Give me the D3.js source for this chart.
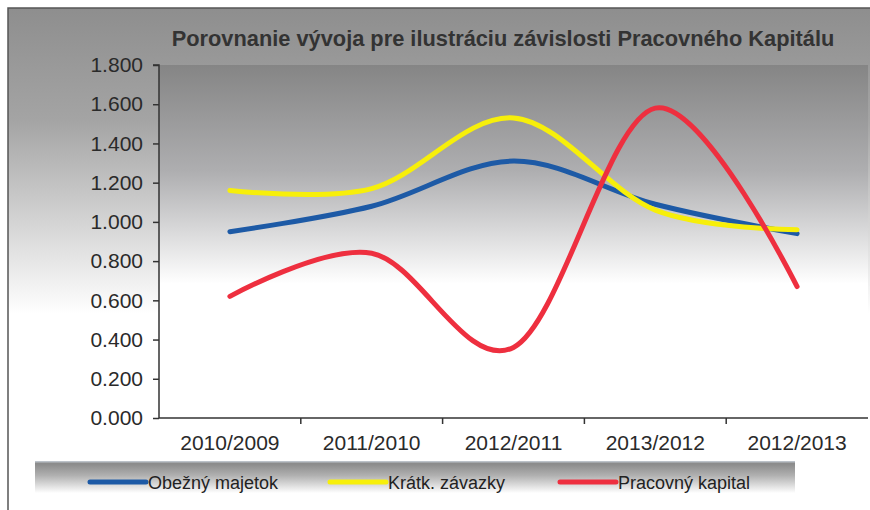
<!DOCTYPE html>
<html>
<head>
<meta charset="utf-8">
<script src="https://cdn.jsdelivr.net/npm/d3@7"></script>
<style>
    body { margin: 0; background: #fff; }
    text { font-family: "Liberation Sans", Arial, sans-serif; }
    .axis text { font-size: 21px; fill: #2a2a2a; }
    .axis path, .axis line { stroke: #333; stroke-width: 1.5; }
    .title { font-size: 21.8px; font-weight: bold; fill: #333; }
    .legendText { font-size: 18px; fill: #222; }
</style>
</head>
<body>
<script>

var categories = ["2010/2009", "2011/2010", "2012/2011", "2013/2012", "2012/2013"];
var obezny = [0.95, 1.08, 1.31, 1.09, 0.94];
var kratke = [1.16, 1.17, 1.53, 1.06, 0.96];
var pracovny = [0.62, 0.84, 0.36, 1.58, 0.67];
var yTicks = [0, 0.2, 0.4, 0.6, 0.8, 1.0, 1.2, 1.4, 1.6, 1.8];

var series = [
    { name: "Obežný majetok", values: obezny, colour: "#1d5aa6" },
    { name: "Krátk. závazky", values: kratke, colour: "#f7ef0a" },
    { name: "Pracovný kapital", values: pracovny, colour: "#ee2f3f" }
];

var width = 870;
var height = 510;

const margin = {
    top: 65,
    right: 2,
    bottom: 92,
    left: 159
};

var svg = d3.select("body").append("svg")
    .attr("width", width)
    .attr("height", height);

var defs = svg.append("defs");

var bgGrad = defs.append("linearGradient") // whole chart background
    .attr("id", "bgGrad")
    .attr("x1", 0).attr("y1", 0).attr("x2", 0).attr("y2", 1);
bgGrad.append("stop").attr("offset", "0%").attr("stop-color", "#8e8e8e");
bgGrad.append("stop").attr("offset", "22%").attr("stop-color", "#a4a4a4");
bgGrad.append("stop").attr("offset", "60%").attr("stop-color", "#ffffff");
bgGrad.append("stop").attr("offset", "100%").attr("stop-color", "#ffffff");

var plotGrad = defs.append("linearGradient") // plot area
    .attr("id", "plotGrad")
    .attr("x1", 0).attr("y1", 0).attr("x2", 0).attr("y2", 1);
plotGrad.append("stop").attr("offset", "0%").attr("stop-color", "#858585");
plotGrad.append("stop").attr("offset", "30%").attr("stop-color", "#aeaeb0");
plotGrad.append("stop").attr("offset", "62%").attr("stop-color", "#ffffff");
plotGrad.append("stop").attr("offset", "100%").attr("stop-color", "#ffffff");

var legGrad = defs.append("linearGradient") // legend band
    .attr("id", "legGrad")
    .attr("x1", 0).attr("y1", 0).attr("x2", 0).attr("y2", 1);
legGrad.append("stop").attr("offset", "0%").attr("stop-color", "#c8d0d8");
legGrad.append("stop").attr("offset", "8%").attr("stop-color", "#8a8a8a");
legGrad.append("stop").attr("offset", "45%").attr("stop-color", "#b0b0b0");
legGrad.append("stop").attr("offset", "100%").attr("stop-color", "#ffffff");

svg.append("rect") // chart area with its border
    .attr("x", 8)
    .attr("y", 8)
    .attr("width", width)
    .attr("height", 510)
    .style("fill", "url(#bgGrad)")
    .style("stroke", "#555")
    .style("stroke-width", 1.5);

svg.append("rect")
    .attr("x", margin.left)
    .attr("y", margin.top)
    .attr("width", width - margin.left - margin.right)
    .attr("height", height - margin.top - margin.bottom)
    .style("fill", "url(#plotGrad)");

svg.append("text")
    .attr("class", "title")
    .attr("x", 503)
    .attr("y", 46)
    .style("text-anchor", "middle")
    .text("Porovnanie vývoja pre ilustráciu závislosti Pracovného Kapitálu");

var x = d3.scaleBand()
    .domain(categories)
    .range([margin.left, width - margin.right]);

var y = d3.scaleLinear()
    .domain([0, 1.8])
    .range([height - margin.bottom, margin.top]);

var yAxis = d3.axisLeft(y)
    .tickValues(yTicks)
    .tickSize(6)
    .tickPadding(10)
    .tickFormat(d3.format(".3f"));

svg.append("g")
    .attr("class", "axis yAxis")
    .attr("transform", `translate(${margin.left}, 0)`)
    .call(yAxis)
    .call(g => g.select(".domain").attr("d", `M-6,${y(1.8)}H0V${y(0)}`));

var xAxis = d3.axisBottom(x)
    .tickSize(0)
    .tickPadding(17);

var xg = svg.append("g")
    .attr("class", "axis xAxis")
    .attr("transform", `translate(0, ${y(0)})`)
    .call(xAxis);

xg.select(".domain").attr("d", `M${margin.left},0H${width - margin.right}`);

// tick marks sit between categories
xg.selectAll("line.sep")
    .data(categories.slice(1))
    .enter()
    .append("line")
    .attr("class", "sep")
    .attr("x1", e => x(e))
    .attr("x2", e => x(e))
    .attr("y1", 0)
    .attr("y2", 6);

var line = d3.line()
    .x((e, i) => x(categories[i]) + x.bandwidth() / 2)
    .y(e => y(e))
    .curve(d3.curveCardinal.tension(0));

svg.selectAll("path.series")
    .data(series)
    .enter()
    .append("path")
    .attr("class", "series")
    .attr("d", e => line(e.values))
    .style("fill", "none")
    .style("stroke", e => e.colour)
    .style("stroke-width", 5)
    .style("stroke-linecap", "round");

// legend
svg.append("rect")
    .attr("x", 35)
    .attr("y", 461)
    .attr("width", 760)
    .attr("height", 32)
    .style("fill", "url(#legGrad)");

var legendX = [90, 330, 560];

var legend = svg.selectAll("g.legend")
    .data(series)
    .enter()
    .append("g")
    .attr("class", "legend")
    .attr("transform", (e, i) => `translate(${legendX[i]}, 482)`);

legend.append("line")
    .attr("x1", 0)
    .attr("x2", 56)
    .style("stroke", e => e.colour)
    .style("stroke-width", 5)
    .style("stroke-linecap", "round");

legend.append("text")
    .attr("class", "legendText")
    .attr("x", 58)
    .attr("y", 7)
    .text(e => e.name);

</script>
</body>
</html>
